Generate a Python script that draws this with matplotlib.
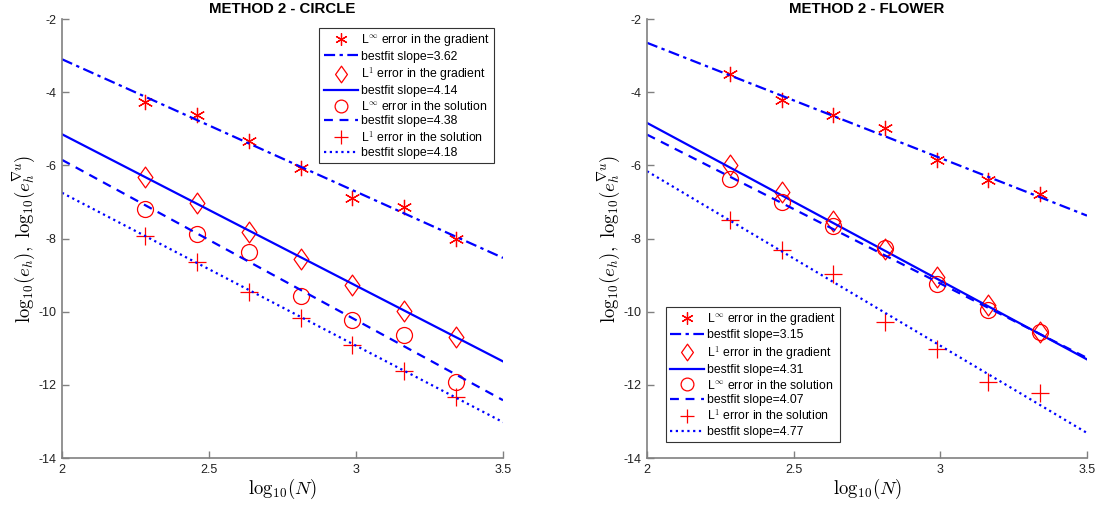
import numpy as np
import matplotlib
matplotlib.use("Agg")
import matplotlib.pyplot as plt
from matplotlib.path import Path

plt.rcParams['font.family'] = ['Liberation Sans', 'DejaVu Sans']
plt.rcParams['mathtext.fontset'] = 'cm'
plt.rcParams['axes.unicode_minus'] = False

# log10(N) of the meshes
logN = [2.283, 2.459, 2.635, 2.812, 2.988, 3.164, 3.340]

# circle case
circ_linf_grad = [-4.28, -4.62, -5.33, -6.08, -6.90, -7.14, -8.02]
circ_l1_grad = [-6.33, -7.04, -7.81, -8.55, -9.27, -9.98, -10.70]
circ_linf_sol = [-7.20, -7.88, -8.38, -9.58, -10.24, -10.65, -11.92]
circ_l1_sol = [-7.93, -8.65, -9.45, -10.17, -10.90, -11.63, -12.33]
circ_slopes = [3.62, 4.14, 4.38, 4.18]
circ_icpt = [4.14, 3.13, 2.91, 1.61]

# flower case
flow_linf_grad = [-3.51, -4.21, -4.62, -4.98, -5.86, -6.40, -6.79]
flow_l1_grad = [-5.98, -6.73, -7.52, -8.30, -9.05, -9.83, -10.55]
flow_linf_sol = [-6.37, -7.00, -7.66, -8.25, -9.25, -9.95, -10.55]
flow_l1_sol = [-7.49, -8.32, -8.98, -10.27, -11.01, -11.92, -12.22]
flow_slopes = [3.15, 4.31, 4.07, 4.77]
flow_icpt = [3.65, 3.78, 2.98, 3.38]

err_labels = [r'L$^{\infty}$ error in the gradient', r'L$^{1}$ error in the gradient',
              r'L$^{\infty}$ error in the solution', r'L$^{1}$ error in the solution']

diamond = Path([(-0.71, 0), (0, 1), (0.71, 0), (0, -1), (-0.71, 0)],
               [Path.MOVETO, Path.LINETO, Path.LINETO, Path.LINETO, Path.CLOSEPOLY])
markers = [(6, 2, 0), diamond, 'o', '+']
msizes = [11, 15, 11.5, 13]
styles = [(0, (5, 2, 1.5, 2)), '-', (0, (4, 3)), (0, (1, 1.6))]

red = '#ff0000'
blue = '#0000ff'
axcol = '#808080'


def panel(ax, series, slopes, icpt, title, legpos):
    xfit = np.array([2.0, 3.5])
    for i in range(4):
        ax.plot(logN, series[i], linestyle='none', marker=markers[i], ms=msizes[i],
                mec=red, mfc='none', mew=0.9, color=red, label=err_labels[i])
        ax.plot(xfit, icpt[i] - slopes[i] * xfit, color=blue, lw=1.6,
                linestyle=styles[i], label='bestfit slope=%.2f' % slopes[i])
    ax.set_xlim(2, 3.5)
    ax.set_ylim(-14, -2)
    ax.set_xticks([2, 2.5, 3, 3.5])
    ax.set_xticklabels(['2', '2.5', '3', '3.5'])
    ax.set_yticks(range(-14, -1, 2))
    ax.set_yticklabels([str(v) for v in range(-14, -1, 2)])
    for s in ['top', 'right']:
        ax.spines[s].set_visible(False)
    for s in ['left', 'bottom']:
        ax.spines[s].set_color(axcol)
        ax.spines[s].set_linewidth(1.2)
    ax.tick_params(direction='in', length=5, width=1.0, color=axcol,
                   labelsize=9, labelcolor='#222222', pad=4)
    ax.set_title(title, fontsize=10.8, fontweight='bold', pad=4)
    ax.set_xlabel(r'$\mathrm{log}_{10}(N)$', fontsize=13.5, labelpad=1)
    ax.set_ylabel(r'$\mathrm{log}_{10}(e_h),\ \mathrm{log}_{10}(e_h^{\nabla u})$',
                  fontsize=13.5, labelpad=1)
    leg = ax.legend(loc=legpos[0], bbox_to_anchor=legpos[1], fontsize=8.8,
                    handlelength=2.8, handletextpad=0.25, markerscale=0.8,
                    labelspacing=0.2, borderpad=0.35, fancybox=False, framealpha=1,
                    borderaxespad=0.0)
    leg.get_frame().set_edgecolor('#333333')
    leg.get_frame().set_linewidth(0.8)


fig = plt.figure(figsize=(10.99, 5.14), dpi=100)
ax1 = fig.add_axes([62 / 1099, 56 / 514, 441 / 1099, 439 / 514])
ax2 = fig.add_axes([647 / 1099, 56 / 514, 440 / 1099, 439 / 514])

panel(ax1, [circ_linf_grad, circ_l1_grad, circ_linf_sol, circ_l1_sol],
      circ_slopes, circ_icpt, 'METHOD 2 - CIRCLE', ('upper right', (0.98, 0.98)))
panel(ax2, [flow_linf_grad, flow_l1_grad, flow_linf_sol, flow_l1_sol],
      flow_slopes, flow_icpt, 'METHOD 2 - FLOWER', ('lower left', (0.0425, 0.036)))

fig.savefig('out.png', dpi=100)
